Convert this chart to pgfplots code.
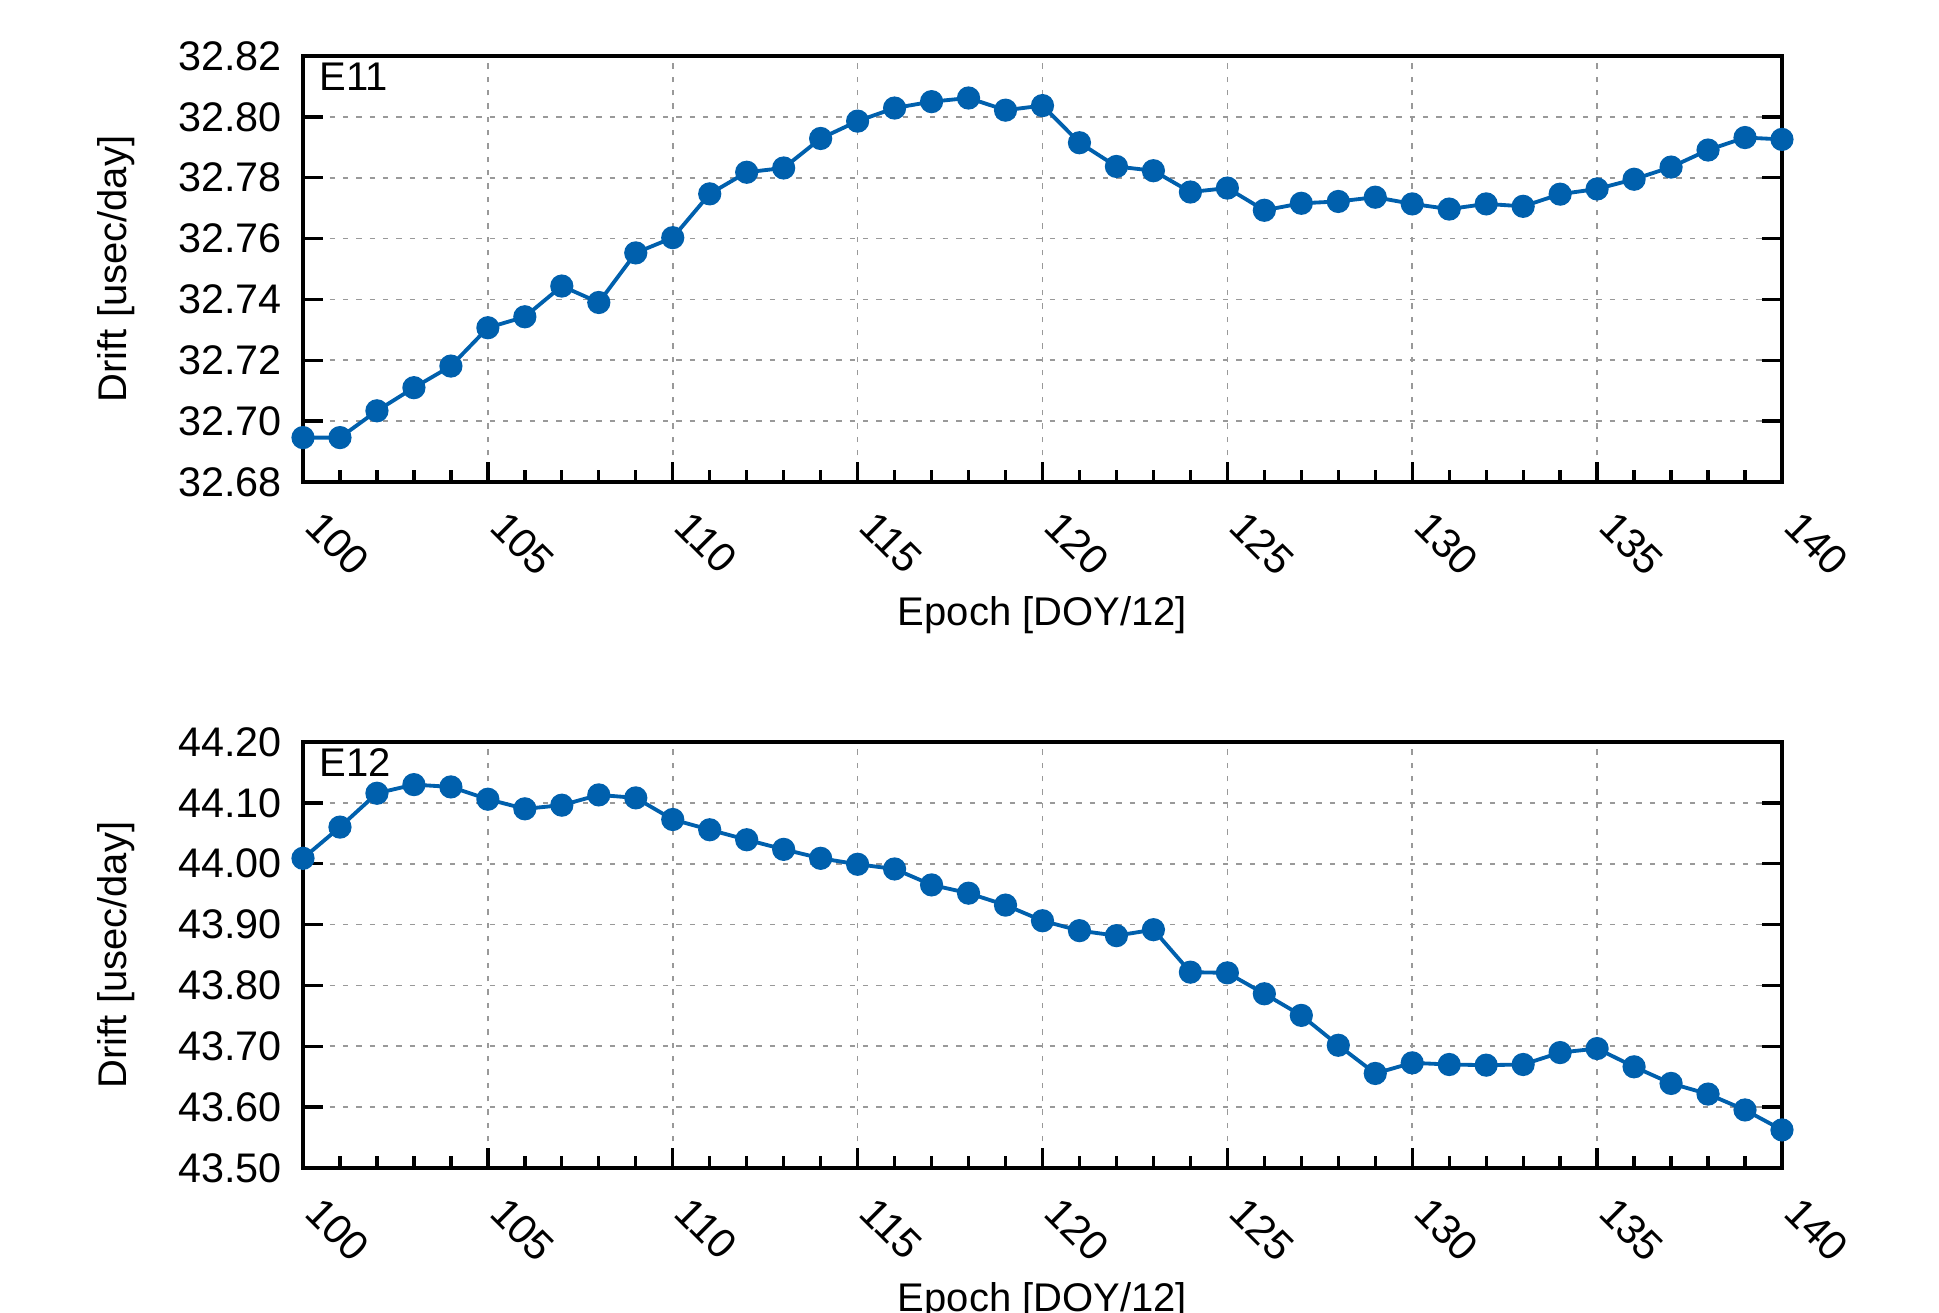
\documentclass[border=0pt]{standalone}
\usepackage{fontspec}
\setmainfont{Liberation Sans}
\usepackage{pgfplots}
\pgfplotsset{compat=1.18}
\definecolor{gblue}{HTML}{0060AD}
\pgfplotsset{myax/.style={
  scale only axis, width=443.7pt, height=127.8pt,
  xmin=100, xmax=140, xtick={100,105,...,140}, minor x tick num=4,
  xtick pos=bottom, ytick pos=both, tick align=inside,
  major tick length=6pt, minor tick length=3.5pt,
  grid=major,
  major grid style={gray!80, line width=0.5pt, dash pattern=on 1.6pt off 2.4pt},
  axis line style={line width=1.1pt},
  every tick/.style={black, line width=1pt},
  tick label style={font=\fontsize{12.4}{14}\selectfont},
  /pgf/number format/assume math mode=true,
  xticklabel style={rotate=-45, anchor=west, inner sep=0pt, yshift=-5.75pt, xshift=9.9pt},
  yticklabel style={/pgf/number format/fixed, /pgf/number format/fixed zerofill, /pgf/number format/precision=2, xshift=-2.8pt},
  xlabel={Epoch [DOY/12]}, ylabel={Drift [usec/day]},
  every axis x label/.style={at={(axis description cs:0.5,0)}, yshift=-40pt, anchor=center, font=\fontsize{12}{14}\selectfont},
  every axis y label/.style={at={(axis description cs:0,0.5)}, xshift=-56pt, rotate=90, anchor=center, font=\fontsize{12}{14}\selectfont},
}}
\begin{document}
\begin{tikzpicture}
\useasboundingbox (0,0) rectangle (581.7pt,-393.9pt);
\begin{axis}[myax, at={(90.9pt,-16.8pt)}, anchor=north west,
  ymin=32.68, ymax=32.82, ytick={32.68,32.70,...,32.82}]
\addplot[gblue, line width=1.15pt, mark=*, mark size=2.9pt] coordinates {
(100,32.6946)(101,32.6946)(102,32.7034)(103,32.7110)(104,32.7181)
(105,32.7307)(106,32.7343)(107,32.7444)(108,32.7390)(109,32.7553)
(110,32.7603)(111,32.7747)(112,32.7818)(113,32.7832)(114,32.7929)
(115,32.7986)(116,32.8029)(117,32.8050)(118,32.8062)(119,32.8022)
(120,32.8037)(121,32.7915)(122,32.7837)(123,32.7823)(124,32.7753)
(125,32.7766)(126,32.7693)(127,32.7716)(128,32.7722)(129,32.7736)
(130,32.7714)(131,32.7697)(132,32.7714)(133,32.7706)(134,32.7746)
(135,32.7763)(136,32.7795)(137,32.7835)(138,32.7891)(139,32.7932)
(140,32.7926)};
\node[anchor=west, inner sep=0pt, font=\fontsize{12}{14}\selectfont] at (rel axis cs:0,1) [xshift=4.8pt, yshift=-6.3pt] {E11};
\end{axis}
\begin{axis}[myax, at={(90.9pt,-222.6pt)}, anchor=north west,
  ymin=43.50, ymax=44.20, ytick={43.5,43.6,...,44.2}]
\addplot[gblue, line width=1.15pt, mark=*, mark size=2.9pt] coordinates {
(100,44.0089)(101,44.0602)(102,44.1158)(103,44.1300)(104,44.1262)
(105,44.1060)(106,44.0902)(107,44.0962)(108,44.1131)(109,44.1082)
(110,44.0727)(111,44.0558)(112,44.0394)(113,44.0236)(114,44.0089)
(115,43.9991)(116,43.9914)(117,43.9652)(118,43.9516)(119,43.9320)
(120,43.9063)(121,43.8900)(122,43.8818)(123,43.8916)(124,43.8218)
(125,43.8207)(126,43.7863)(127,43.7508)(128,43.7017)(129,43.6554)
(130,43.6728)(131,43.6701)(132,43.6690)(133,43.6701)(134,43.6897)
(135,43.6963)(136,43.6663)(137,43.6390)(138,43.6215)(139,43.5954)
(140,43.5626)};
\node[anchor=west, inner sep=0pt, font=\fontsize{12}{14}\selectfont] at (rel axis cs:0,1) [xshift=4.8pt, yshift=-6.3pt] {E12};
\end{axis}
\end{tikzpicture}
\end{document}
